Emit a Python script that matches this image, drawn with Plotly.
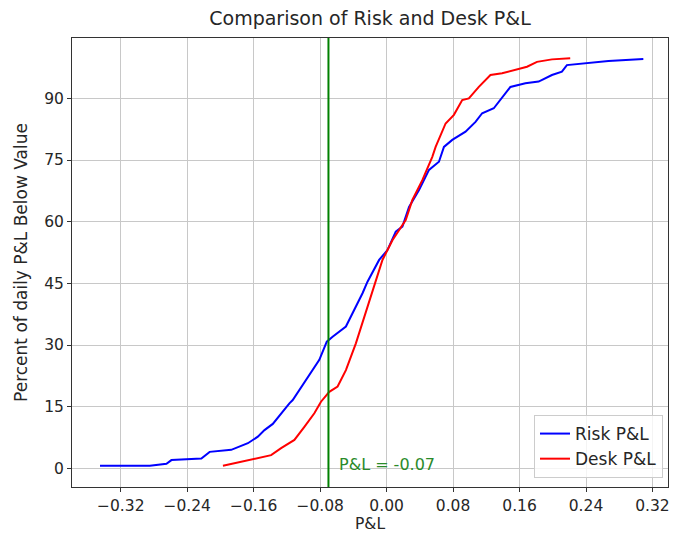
import plotly.graph_objects as go

# Empirical distribution of daily P&L: sorted P&L value vs. percent of days below it
risk_pnl = [-0.345, -0.285, -0.265, -0.259, -0.223, -0.213, -0.187, -0.177, -0.167,
            -0.155, -0.147, -0.137, -0.126, -0.117, -0.113, -0.097, -0.081, -0.072,
            -0.065, -0.049, -0.039, -0.029, -0.023, -0.009, 0.001, 0.011, 0.019,
            0.027, 0.039, 0.051, 0.063, 0.069, 0.079, 0.095, 0.107, 0.115, 0.129,
            0.137, 0.149, 0.167, 0.183, 0.199, 0.211, 0.217, 0.243, 0.267, 0.309]
risk_pct = [0.6, 0.6, 1.1, 2.0, 2.4, 4.0, 4.5, 5.3, 6.1,
            7.7, 9.3, 10.8, 13.7, 15.8, 16.6, 21.5, 26.4, 30.8,
            32.0, 34.5, 38.5, 42.6, 45.4, 50.7, 53.1, 57.6, 58.8,
            63.6, 67.7, 72.6, 74.6, 78.2, 79.9, 81.9, 84.3, 86.4, 87.6,
            89.6, 92.8, 93.7, 94.1, 95.7, 96.5, 98.1, 98.7, 99.1, 99.6]

desk_pnl = [-0.197, -0.175, -0.155, -0.139, -0.127, -0.111, -0.099, -0.087, -0.079,
            -0.069, -0.059, -0.049, -0.037, -0.027, -0.019, -0.005, 0.007, 0.023,
            0.031, 0.043, 0.055, 0.059, 0.071, 0.081, 0.091, 0.099, 0.111, 0.125,
            0.139, 0.155, 0.169, 0.181, 0.199, 0.221]
desk_pct = [0.6, 1.6, 2.4, 3.2, 4.9, 6.9, 10.1, 13.4, 16.2,
            18.6, 19.9, 23.9, 30.4, 36.9, 41.8, 50.7, 55.5, 60.4,
            65.3, 70.1, 75.8, 78.2, 83.9, 86.0, 89.6, 90.0, 92.8, 95.7,
            96.1, 96.9, 97.7, 98.9, 99.5, 99.8]

pnl_marker = -0.07
x_ticks = [-0.32, -0.24, -0.16, -0.08, 0.0, 0.08, 0.16, 0.24, 0.32]
y_ticks = [0, 15, 30, 45, 60, 75, 90]

FONT = "DejaVu Sans"
TEXT = "#262626"

fig = go.Figure()
fig.add_trace(go.Scatter(x=risk_pnl, y=risk_pct, mode="lines", name="Risk P&L",
                         line=dict(color="#0000ff", width=2)))
fig.add_trace(go.Scatter(x=desk_pnl, y=desk_pct, mode="lines", name="Desk P&L",
                         line=dict(color="#ff0000", width=2)))

fig.add_shape(type="line", x0=pnl_marker, x1=pnl_marker, y0=0, y1=1,
              xref="x", yref="paper", line=dict(color="#008000", width=2))
fig.add_annotation(x=pnl_marker + 0.01, y=1.0, xref="x", yref="y",
                   text=f"P&L = {pnl_marker}", showarrow=False,
                   xanchor="left", yanchor="middle",
                   font=dict(family=FONT, size=16, color="#2a8a2a"))

axis_common = dict(showgrid=True, gridcolor="#c8c8c8", gridwidth=1,
                   showline=True, linecolor="#333333", linewidth=1, mirror=True,
                   ticks="outside", ticklen=4, tickcolor="#333333",
                   zeroline=False,
                   tickfont=dict(family=FONT, size=15.5, color=TEXT))

fig.update_xaxes(range=[-0.3787, 0.3387], tickvals=x_ticks, tickformat=".2f",
                 title=dict(text="P&L", font=dict(family=FONT, size=15.5, color=TEXT),
                            standoff=2),
                 **axis_common)
fig.update_yaxes(range=[-4.55, 104.7], tickvals=y_ticks,
                 title=dict(text="Percent of daily P&L Below Value",
                            font=dict(family=FONT, size=17, color=TEXT), standoff=12),
                 **axis_common)

fig.update_layout(
    width=675, height=536,
    margin=dict(l=72, r=5, t=38, b=49),
    paper_bgcolor="white", plot_bgcolor="white",
    title=dict(text="Comparison of Risk and Desk P&L", x=0.5, xref="paper",
               y=1 - 18 / 536, yanchor="middle",
               font=dict(family=FONT, size=19, color=TEXT)),
    legend=dict(x=0.9916, y=0.02, xanchor="right", yanchor="bottom",
                bgcolor="rgba(255,255,255,0.8)", bordercolor="#cccccc", borderwidth=1,
                font=dict(family=FONT, size=17, color=TEXT)),
    showlegend=True,
)

fig.write_html("out.html")
